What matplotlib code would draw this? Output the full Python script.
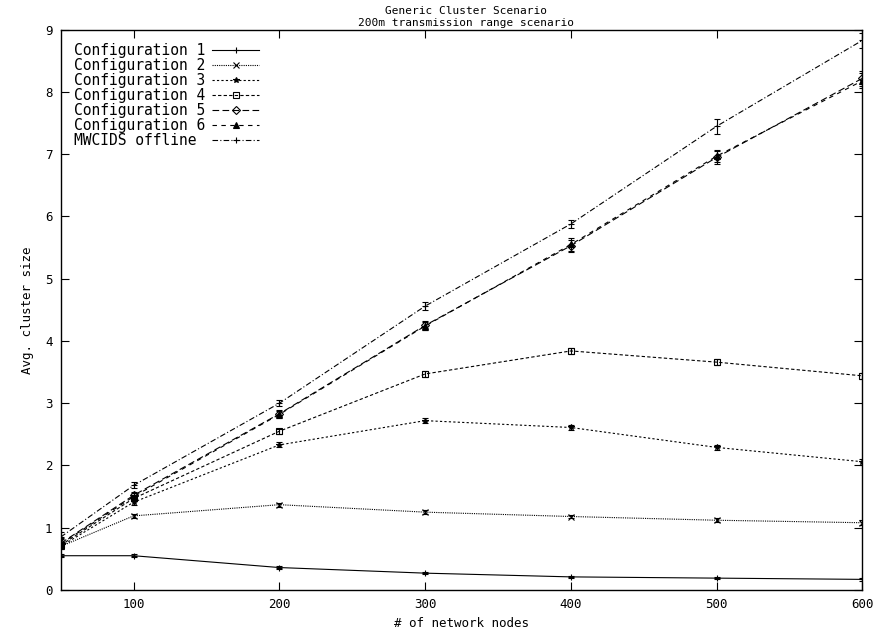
import numpy as np
import matplotlib.pyplot as plt

nodes = [50, 100, 200, 300, 400, 500, 600]

conf1 = [0.55, 0.55, 0.36, 0.27, 0.21, 0.19, 0.17]
conf2 = [0.70, 1.19, 1.37, 1.25, 1.18, 1.12, 1.08]
conf3 = [0.70, 1.41, 2.33, 2.72, 2.61, 2.29, 2.06]
conf4 = [0.72, 1.47, 2.55, 3.47, 3.84, 3.66, 3.44]
conf5 = [0.75, 1.52, 2.83, 4.25, 5.53, 6.95, 8.22]
conf6 = [0.74, 1.50, 2.82, 4.24, 5.55, 6.97, 8.18]
mwcids = [0.85, 1.68, 3.00, 4.56, 5.88, 7.45, 8.83]

err1 = [0.02, 0.02, 0.02, 0.02, 0.02, 0.02, 0.02]
err2 = [0.03, 0.03, 0.03, 0.03, 0.03, 0.03, 0.04]
err3 = [0.05, 0.04, 0.04, 0.04, 0.04, 0.04, 0.05]
err4 = [0.05, 0.04, 0.04, 0.05, 0.05, 0.05, 0.05]
err5 = [0.08, 0.06, 0.06, 0.07, 0.10, 0.10, 0.12]
err6 = [0.08, 0.06, 0.06, 0.07, 0.10, 0.10, 0.12]
err_mw = [0.08, 0.05, 0.05, 0.07, 0.07, 0.12, 0.12]

labels = ['Configuration 1', 'Configuration 2', 'Configuration 3',
          'Configuration 4', 'Configuration 5', 'Configuration 6',
          'MWCIDS offline']

series = [conf1, conf2, conf3, conf4, conf5, conf6, mwcids]
errors = [err1, err2, err3, err4, err5, err6, err_mw]
styles = ['-', (0, (1, 1)), (0, (2, 2)), (0, (3, 2)), (0, (6, 3)),
          (0, (4, 4)), (0, (5, 2, 1, 2))]
markers = ['+', 'x', '*', 's', 'D', '^', '+']
mfc = ['k', 'k', 'k', 'none', 'none', 'k', 'k']

plt.rcParams['font.family'] = 'DejaVu Sans Mono'

fig = plt.figure(figsize=(8.8, 6.33), dpi=100)
ax = fig.add_axes([0.069, 0.068, 0.911, 0.885])

handles = []
for y, e, ls, m, fc, lab in zip(series, errors, styles, markers, mfc, labels):
    c = ax.errorbar(nodes, y, yerr=e, color='k', linestyle=ls, linewidth=0.8,
                    marker=m, markersize=4, markerfacecolor=fc,
                    markeredgecolor='k', markeredgewidth=0.8,
                    ecolor='k', elinewidth=0.8, capsize=2.5, label=lab)
    handles.append(c[0])

ax.set_xlim(50, 600)
ax.set_ylim(0, 9)
ax.set_xticks([100, 200, 300, 400, 500, 600])
ax.set_yticks(np.arange(0, 10, 1))
ax.tick_params(direction='in', top=True, right=True, labelsize=9, length=6, pad=6)
for s in ax.spines.values():
    s.set_linewidth(1.0)

ax.set_xlabel('# of network nodes', fontsize=9, labelpad=4)
ax.set_ylabel('Avg. cluster size', fontsize=9, labelpad=8)
fig.text(0.53, 0.99, 'Generic Cluster Scenario\n200m transmission range scenario',
         ha='center', va='top', fontsize=8)

# pad labels so the monospace text lines up on the left
width = max(len(l) for l in labels)
padded = [l.ljust(width) for l in labels]
leg = ax.legend(handles, padded, loc='upper left', markerfirst=False,
                fontsize=10.5, handlelength=3.2, labelspacing=0.0,
                borderpad=0.4, handletextpad=0.5, frameon=False)

fig.savefig('out.png', dpi=100)
